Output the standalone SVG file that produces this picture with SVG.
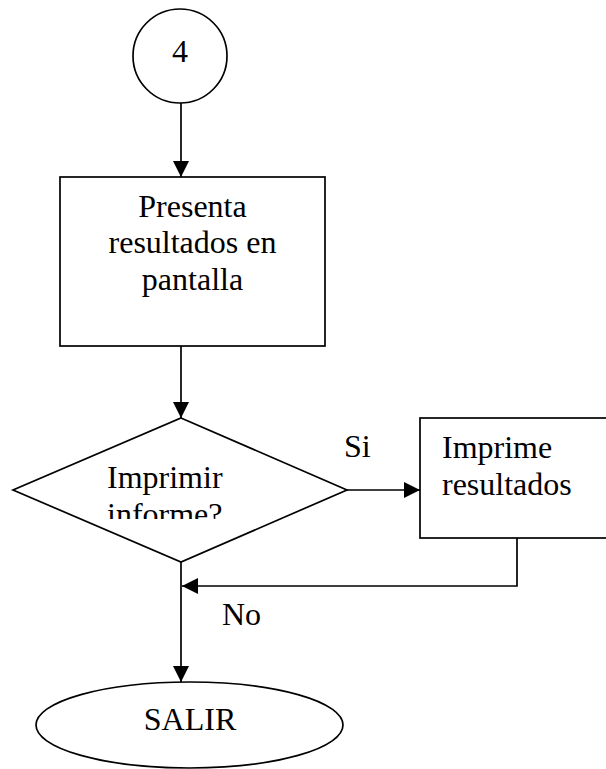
<svg xmlns="http://www.w3.org/2000/svg" width="606" height="769" viewBox="0 0 606 769">
  <style>
    .shape { fill: #ffffff; stroke: #000000; stroke-width: 1.7; }
    .wire { fill: none; stroke: #000000; stroke-width: 1.7; }
    .lbl { font-family: "Liberation Serif", "Times New Roman", serif; font-size: 32px; fill: #000000; }
    .mid { text-anchor: middle; }
  </style>
  <defs>
    <marker id="arrow" viewBox="0 0 16 16" refX="16" refY="8" markerWidth="16" markerHeight="16" markerUnits="userSpaceOnUse" orient="auto">
      <path d="M0,0 L16,8 L0,16 Z" fill="#000000"/>
    </marker>
    <clipPath id="decisionClip">
      <rect x="0" y="400" width="360" height="119"/>
    </clipPath>
  </defs>
  <rect width="606" height="769" fill="#ffffff"/>

  <g id="connectors">
    <line class="wire" x1="181" y1="103" x2="181" y2="177" marker-end="url(#arrow)"/>
    <line class="wire" x1="181" y1="346" x2="181" y2="418" marker-end="url(#arrow)"/>
    <line class="wire" x1="347" y1="490" x2="420" y2="490" marker-end="url(#arrow)"/>
    <polyline class="wire" points="517,538 517,586 182,586" marker-end="url(#arrow)"/>
    <line class="wire" x1="181" y1="562" x2="181" y2="682" marker-end="url(#arrow)"/>
    <text class="lbl" x="344" y="457">Si</text>
    <text class="lbl" x="222" y="625">No</text>
  </g>

  <g id="connector-4">
    <circle class="shape" cx="180" cy="56" r="47"/>
    <text class="lbl mid" x="180" y="62">4</text>
  </g>

  <g id="show-results">
    <rect class="shape" x="60" y="177" width="265" height="169"/>
    <text class="lbl mid" x="192.5" y="217">Presenta</text>
    <text class="lbl mid" x="192.5" y="253">resultados en</text>
    <text class="lbl mid" x="192.5" y="290">pantalla</text>
  </g>

  <g id="print-decision">
    <polygon class="shape" points="181,418 347,490 181,562 13,490"/>
    <g clip-path="url(#decisionClip)">
      <text class="lbl" x="107" y="488">Imprimir</text>
      <text class="lbl" x="107" y="525">informe?</text>
    </g>
  </g>

  <g id="print-results">
    <rect class="shape" x="420" y="418" width="200" height="120"/>
    <text class="lbl" x="442" y="458">Imprime</text>
    <text class="lbl" x="442" y="495">resultados</text>
  </g>

  <g id="exit">
    <ellipse class="shape" cx="189.5" cy="725" rx="153.5" ry="43"/>
    <text class="lbl mid" x="190" y="730">SALIR</text>
  </g>
</svg>
